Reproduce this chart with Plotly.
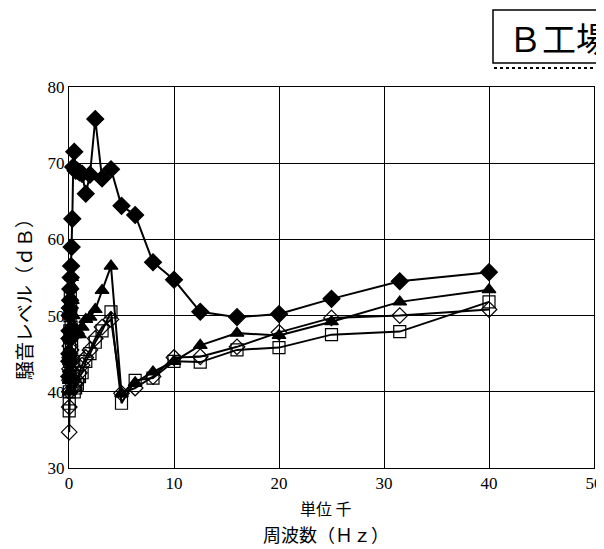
import plotly.graph_objects as go

freq_khz = [0.02, 0.025, 0.0315, 0.04, 0.05, 0.063, 0.08, 0.1, 0.125, 0.16, 0.2, 0.25,
            0.315, 0.4, 0.5, 0.63, 0.8, 1.0, 1.25, 1.6, 2.0, 2.5, 3.15, 4.0, 5.0, 6.3,
            8.0, 10.0, 12.5, 16.0, 20.0, 25.0, 31.5, 40.0]

level_filled_diamond = [42, 44, 45, 47, 48, 50, 51, 52, 53.5, 55, 56.5, 59,
                        62.7, 69.5, 71.5, 69, 69, 68.8, 68.6, 66, 68.5, 75.8, 68, 69.2, 64.4, 63.2,
                        57, 54.7, 50.5, 49.8, 50.2, 52.2, 54.5, 55.7]
level_filled_triangle = [40, 41.5, 43, 44, 45.5, 47, 48.5, 50, 51, 52.5, 54, 55,
                         52, 50, 48.5, 47.5, 48, 47.5, 48.5, 49.5, 49.8, 50.8, 53.3, 56.5, 39.8, 41.2,
                         42.6, 44.0, 46.1, 47.7, 47.4, 49.2, 51.8, 53.4]
level_open_square = [37.5, 38.5, 40, 42, 44, 46, 48, 50, 52.5, 51, 48.5, 46,
                     44, 42, 40, 40.5, 41, 42, 42.5, 44, 45, 46.5, 48, 50.5, 38.5, 41.5,
                     41.8, 44.0, 43.9, 45.5, 45.8, 47.5, 47.9, 51.8]
level_open_diamond = [34.7, 38, 40, 41.5, 43, 44.5, 46, 47, 48, 47, 45.5, 44,
                      42.5, 41.5, 40.5, 41, 41.5, 42.5, 43.5, 44.5, 45.5, 47, 48.5, 49.5, 39.8, 40.5,
                      42, 44.5, 44.6, 45.9, 47.8, 49.7, 50.0, 50.8]

x_ticks = [0, 10, 20, 30, 40, 50]
y_ticks = [30, 40, 50, 60, 70, 80]

# page has an 8px body margin; figure is sized to fill the rest of the window
OFF = 8
W, H = 604 - OFF, 549 - OFF
# plot area in screen pixels
L, R, T, B = 69, 594, 87, 468
PW, PH = R - L, B - T

def px(xp):
    return (xp - L) / PW

def py(yp):
    return (B - yp) / PH

fig = go.Figure()

def add(y, symbol, size):
    fig.add_trace(go.Scatter(
        x=freq_khz, y=y, mode="lines+markers",
        line=dict(color="black", width=2),
        marker=dict(symbol=symbol, size=size, color="black",
                    line=dict(color="black", width=1.2)),
        showlegend=False, cliponaxis=False))

add(level_open_diamond, "diamond-open", 12)
add(level_open_square, "square-open", 12)
add(level_filled_triangle, "triangle-up", 12)
add(level_filled_diamond, "diamond", 13)

tick_font = dict(family="Liberation Serif, serif", size=17, color="black")
fig.update_xaxes(range=[0, 50], tickvals=x_ticks, ticktext=[str(v) for v in x_ticks],
                 showgrid=True, gridcolor="black", gridwidth=1,
                 showline=True, linecolor="black", linewidth=1, mirror=True,
                 zeroline=False, ticks="", tickfont=tick_font, automargin=False)
fig.update_yaxes(range=[30, 80], tickvals=y_ticks, ticktext=[str(v) for v in y_ticks],
                 showgrid=True, gridcolor="black", gridwidth=1,
                 showline=True, linecolor="black", linewidth=1, mirror=True,
                 zeroline=False, ticks="", tickfont=tick_font, automargin=False)

fig.add_annotation(text="騒音レベル（ｄＢ）", xref="paper", yref="paper",
                   x=px(23), y=py(295), textangle=-90, showarrow=False,
                   font=dict(family="Noto Sans CJK JP", size=19, color="black"),
                   xanchor="center", yanchor="middle", borderpad=0)
fig.add_annotation(text="単位 千", xref="paper", yref="paper", x=px(326), y=py(508),
                   showarrow=False, font=dict(family="Noto Sans CJK JP", size=16, color="black"),
                   yanchor="middle", xanchor="center", borderpad=0)
fig.add_annotation(text="周波数（Ｈｚ）", xref="paper", yref="paper", x=px(326), y=py(534),
                   showarrow=False, font=dict(family="Noto Sans CJK JP", size=18, color="black"),
                   yanchor="middle", xanchor="center", borderpad=0)

# title box (cut off at the right edge, as in the original scan)
fig.add_shape(type="rect", xref="paper", yref="paper", x0=px(493), x1=px(630),
              y0=py(63), y1=py(10),
              line=dict(color="black", width=1.5), fillcolor="rgba(0,0,0,0)")
fig.add_shape(type="line", xref="paper", yref="paper", x0=px(494), x1=px(604),
              y0=py(68), y1=py(68),
              line=dict(color="black", width=2, dash="dot"))
fig.add_annotation(text="Ｂ工場", xref="paper", yref="paper", x=px(506), y=py(37),
                   xanchor="left", yanchor="middle", showarrow=False,
                   font=dict(family="Noto Sans CJK JP", size=34, color="black"))

fig.update_layout(width=W, height=H,
                  margin=dict(l=L - OFF, r=W - (R - OFF), t=T - OFF, b=H - (B - OFF),
                              autoexpand=False),
                  plot_bgcolor="white", paper_bgcolor="white")

fig.write_html("out.html")
